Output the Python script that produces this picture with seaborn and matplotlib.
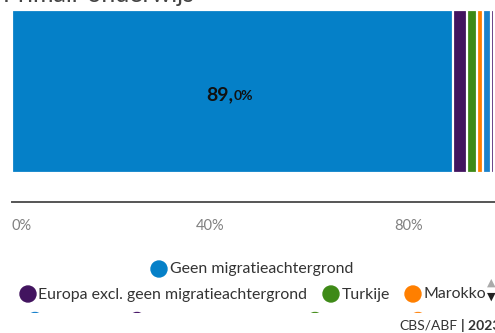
import matplotlib
matplotlib.use("Agg")
import matplotlib.pyplot as plt
from matplotlib.patches import Circle
import seaborn as sns
import pandas as pd
import numpy as np

# ---- data ----
title = "Primair onderwijs"
categories = ["Geen migratieachtergrond", "Europa excl. geen migratieachtergrond",
              "Turkije", "Marokko", "Suriname", "Nederlandse Cariben",
              "Indonesië", "Overig"]
values = [89.0, 2.7, 2.1, 1.2, 1.6, 0.5, 1.1, 1.8]
colors = ["#0580c8", "#42145f", "#3e8a17", "#ff7f00",
          "#1a82cc", "#4b1a6b", "#4a9021", "#ff8a1a"]
tick_values = [0, 40, 80]
tick_labels = ["0%", "40%", "80%"]
label_main = "89,"
label_small = "0%"
source_a = "CBS/ABF"
source_b = "| 2023"

W, H = 495, 333
sns.set_theme(style="white")
plt.rcParams["font.family"] = ["Lato", "DejaVu Sans"]

fig = plt.figure(figsize=(W / 100, H / 100), dpi=100)

def px_axes(x0, y0, x1, y1):
    return fig.add_axes([x0 / W, 1 - y1 / H, (x1 - x0) / W, (y1 - y0) / H])

ax = px_axes(12, 0, 508, 202)

cum = np.cumsum(values)
df = pd.DataFrame({"group": categories, "cum": cum, "row": ["r"] * len(categories)})
pal = dict(zip(categories, colors))
sns.barplot(data=df, x="cum", y="row", hue="group", hue_order=categories[::-1],
            palette=pal, dodge=False, width=0.8, edgecolor="white", linewidth=1.6,
            saturation=1, legend=False, ax=ax, orient="h")

ax.set_xlim(0, 100)
ax.set_ylim(0.5423, -0.449)
ax.set_xlabel("")
ax.set_ylabel("")
ax.set_yticks([])
for s in ["top", "right", "left"]:
    ax.spines[s].set_visible(False)
ax.spines["bottom"].set_color("#555555")
ax.spines["bottom"].set_linewidth(1.4)
ax.set_xticks(tick_values)
ax.set_xticklabels(tick_labels)
ax.tick_params(axis="x", length=0, pad=12, labelsize=10.5, labelcolor="#808080")
ax.get_xticklabels()[0].set_horizontalalignment("left")

ax.text(44.6, 0.0418, label_main, ha="right", va="baseline", fontsize=14,
        fontweight="bold", color="#111111")
ax.text(44.7, 0.0418, label_small, ha="left", va="baseline", fontsize=10,
        fontweight="bold", color="#111111")

# title (mostly cut at top)
fig.text(3 / W, 1 - 2.2 / H, title, ha="left", va="baseline", fontsize=18, color="#444444")

# legend
lax = px_axes(0, 255, W, 312.5)
lax.set_xlim(0, W)
lax.set_ylim(312.5, 255)
lax.axis("off")
r = 8
legend_rows = [
    [(159, 269, 0)],
    [(28, 294, 1), (331, 294, 2), (413, 294, 3)],
    [(35, 320.5, 4), (137, 320.5, 5), (315, 320.5, 6), (418, 320.5, 7)],
]
for row in legend_rows:
    for (cx, cy, i) in row:
        lax.add_patch(Circle((cx, cy), r, color=colors[i], clip_on=True))
        if cy < 310:
            lax.text(cx + r + 2.5, cy + 0.5, categories[i], ha="left", va="center",
                     fontsize=11.4, color="#333333", clip_on=True)

fig.text(491 / W, 1 - 283 / H, "▲", ha="center", va="center", fontsize=8,
         color="#aaaaaa", family="DejaVu Sans")
fig.text(491 / W, 1 - 296.5 / H, "▼", ha="center", va="center", fontsize=8,
         color="#222222", family="DejaVu Sans")

fig.text(399 / W, 1 - 326 / H, source_a, ha="left", va="center", fontsize=10,
         color="#333333")
fig.text(461 / W, 1 - 326 / H, source_b, ha="left", va="center", fontsize=10,
         color="#333333", fontweight="bold")

fig.savefig("out.png", dpi=100)
